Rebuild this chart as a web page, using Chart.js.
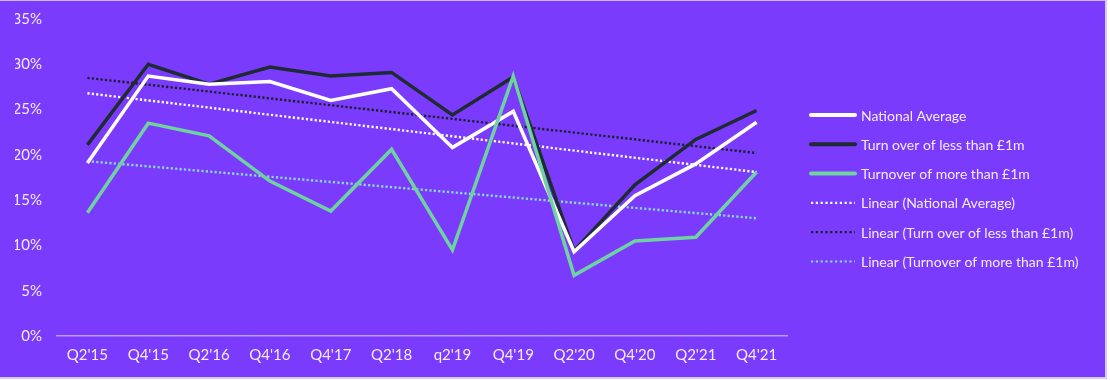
<!DOCTYPE html>
<html>
<head>
<meta charset="utf-8">
<script src="https://cdn.jsdelivr.net/npm/chart.js@4"></script>
<style>
  html, body { margin: 0; padding: 0; background: #ffffff; }
  #wrap { position: relative; width: 1105px; height: 376px; background: #7b3bfd; border-right: 2px solid #d9c9ff; border-bottom: 2px solid #d9c9ff; border-top: 1px solid #c9b8f5; }
  canvas { display: block; }
</style>
</head>
<body>
<div id="wrap"><canvas id="c" width="1105" height="376"></canvas></div>
<script>
const categories = ["Q2'15", "Q4'15", "Q2'16", "Q4'16", "Q4'17", "Q2'18", "q2'19", "Q4'19", "Q2'20", "Q4'20", "Q2'21", "Q4'21"];
const nationalAverage = [19.1, 28.7, 27.8, 28.1, 26.0, 27.3, 20.8, 24.8, 9.3, 15.5, 19.0, 23.6];
const turnoverLess1m  = [21.1, 30.0, 27.8, 29.7, 28.7, 29.1, 24.4, 28.6, 9.4, 16.7, 21.7, 24.9];
const turnoverMore1m  = [13.6, 23.5, 22.1, 17.1, 13.8, 20.6, 9.5, 28.7, 6.7, 10.5, 10.9, 18.1];
// Trend line end points (first and last category)
const trendNational = [26.8, 18.1];
const trendLess1m   = [28.5, 20.2];
const trendMore1m   = [19.3, 13.0];
const yTicks = [0, 5, 10, 15, 20, 25, 30, 35];

function endsOnly(pair) {
  return categories.map((c, i) => i === 0 ? pair[0] : (i === categories.length - 1 ? pair[1] : null));
}

const WHITE = '#ffffff', DARK = '#1f2b33', DARK_DOT = '#18202a', GREEN = '#6fd3a0', GREEN_DOT = '#8ad8d6';
const txt = '#f3ecff';
const FONT = 'Lato, "Open Sans", sans-serif';

// Legend drawn beside the plot, from the datasets' own labels and styles
const sideLegend = {
  id: 'sideLegend',
  afterDraw(chart) {
    const ctx = chart.ctx;
    const x0 = 811, swatch = 44, gap = 6, y0 = 114, step = 29.3;
    ctx.save();
    ctx.font = '14px ' + FONT;
    ctx.textBaseline = 'middle';
    ctx.textAlign = 'left';
    chart.data.datasets.forEach((ds, i) => {
      const y = y0 + i * step;
      ctx.beginPath();
      ctx.strokeStyle = ds.borderColor;
      if (ds.borderDash) { ctx.lineWidth = 2.2; ctx.setLineDash([2.2, 2.6]); }
      else { ctx.lineWidth = 4; ctx.setLineDash([]); ctx.lineCap = 'round'; }
      ctx.moveTo(x0, y); ctx.lineTo(x0 + swatch, y);
      ctx.stroke();
      ctx.lineCap = 'butt';
      ctx.setLineDash([]);
      ctx.fillStyle = txt;
      ctx.fillText(ds.label, x0 + swatch + gap, y + 1);
    });
    ctx.restore();
  }
};

new Chart(document.getElementById('c'), {
  type: 'line',
  plugins: [sideLegend],
  data: {
    labels: categories,
    datasets: [
      { label: 'National Average', data: nationalAverage, borderColor: WHITE, backgroundColor: WHITE, borderWidth: 3.5, order: 3, pointRadius: 0, tension: 0 },
      { label: 'Turn over of less than £1m', data: turnoverLess1m, borderColor: DARK, backgroundColor: DARK, borderWidth: 3.5, order: 4, pointRadius: 0, tension: 0 },
      { label: 'Turnover of more than £1m', data: turnoverMore1m, borderColor: GREEN, backgroundColor: GREEN, borderWidth: 3.5, order: 1, pointRadius: 0, tension: 0 },
      { label: 'Linear (National Average)', data: endsOnly(trendNational), borderColor: WHITE, backgroundColor: WHITE, borderWidth: 2.4, borderDash: [2.2, 2.2], spanGaps: true, order: 5, pointRadius: 0 },
      { label: 'Linear (Turn over of less than £1m)', data: endsOnly(trendLess1m), borderColor: DARK_DOT, backgroundColor: DARK_DOT, borderWidth: 2.4, borderDash: [2.2, 2.2], spanGaps: true, order: 6, pointRadius: 0 },
      { label: 'Linear (Turnover of more than £1m)', data: endsOnly(trendMore1m), borderColor: GREEN_DOT, backgroundColor: GREEN_DOT, borderWidth: 2.4, borderDash: [2.2, 2.2], spanGaps: true, order: 7, pointRadius: 0 }
    ]
  },
  options: {
    responsive: false,
    animation: false,
    layout: { padding: { left: 15, top: 18, right: 318, bottom: 13 } },
    plugins: {
      tooltip: { enabled: false },
      legend: { display: false }
    },
    scales: {
      x: {
        offset: true,
        grid: { display: false, drawTicks: false },
        border: { display: true, color: '#b99cff', width: 1.5 },
        ticks: { color: txt, font: { family: FONT, size: 15 }, padding: 10, maxRotation: 0, autoSkip: false },
        afterFit: (axis) => { axis.height = 28; axis.paddingLeft = 0; axis.paddingRight = 0; }
      },
      y: {
        min: 0, max: 35,
        afterBuildTicks: (axis) => { axis.ticks = yTicks.map(v => ({ value: v })); },
        grid: { display: false, drawTicks: false },
        border: { display: false },
        ticks: { color: txt, font: { family: FONT, size: 15 }, padding: 15, callback: (v) => v + '%' },
        afterFit: (axis) => { axis.width = 42; axis.paddingTop = 0; axis.paddingBottom = 0; }
      }
    }
  }
});
</script>
</body>
</html>
